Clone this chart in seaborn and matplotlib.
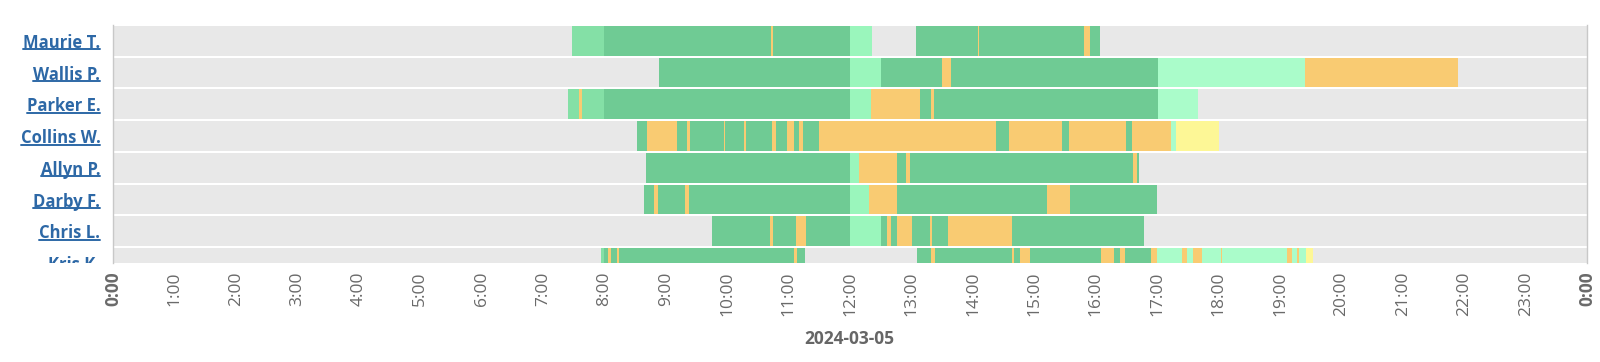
import numpy as np
import pandas as pd
import seaborn as sns
import matplotlib.pyplot as plt
from matplotlib.lines import Line2D
from matplotlib.transforms import Bbox, TransformedBbox

sns.set_style('white')
plt.rcParams['font.family'] = ['Open Sans', 'DejaVu Sans']

# 员工（从上到下）
names = ['Maurie T.', 'Wallis P.', 'Parker E.', 'Collins W.',
         'Allyn P.', 'Darby F.', 'Chris L.', 'Kris K.']

# 各员工的时间段 (开始小时, 结束小时, 状态)
maurie = [(7.47, 8.0, 'lg'), (8.0, 10.72, 'g'), (10.72, 10.75, 'o'), (10.75, 12.0, 'g'),
          (12.0, 12.35, 'm'), (13.07, 14.08, 'g'), (14.08, 14.10, 'o'), (14.10, 15.81, 'g'),
          (15.81, 15.90, 'o'), (15.90, 16.07, 'g')]
wallis = [(8.89, 12.0, 'g'), (12.0, 12.51, 'm'), (12.51, 13.50, 'g'), (13.50, 13.64, 'o'),
          (13.64, 17.01, 'g'), (17.01, 19.41, 'pm'), (19.41, 21.90, 'o')]
parker = [(7.41, 7.58, 'lg'), (7.58, 7.64, 'o'), (7.64, 8.0, 'lg'), (8.0, 12.0, 'g'),
          (12.0, 12.34, 'm'), (12.34, 13.14, 'o'), (13.14, 13.31, 'g'), (13.31, 13.36, 'o'),
          (13.36, 17.01, 'g'), (17.01, 17.67, 'pm')]
collins = [(8.53, 8.70, 'g'), (8.70, 9.18, 'o'), (9.18, 9.34, 'g'), (9.34, 9.40, 'o'),
           (9.40, 9.94, 'g'), (9.94, 9.96, 'o'), (9.96, 10.28, 'g'), (10.28, 10.31, 'o'),
           (10.31, 10.73, 'g'), (10.73, 10.79, 'o'), (10.79, 10.97, 'g'), (10.97, 11.09, 'o'),
           (11.09, 11.17, 'g'), (11.17, 11.24, 'o'), (11.24, 11.50, 'g'), (11.50, 14.37, 'o'),
           (14.37, 14.59, 'g'), (14.59, 15.45, 'o'), (15.45, 15.57, 'g'), (15.57, 16.49, 'o'),
           (16.49, 16.59, 'g'), (16.59, 17.23, 'o'), (17.23, 17.31, 'pm'), (17.31, 18.0, 'y')]
allyn = [(8.68, 12.0, 'g'), (12.0, 12.14, 'm'), (12.14, 12.77, 'o'), (12.77, 12.91, 'g'),
         (12.91, 12.98, 'o'), (12.98, 16.60, 'g'), (16.60, 16.67, 'o'), (16.67, 16.71, 'g')]
darby = [(8.64, 8.80, 'g'), (8.80, 8.87, 'o'), (8.87, 9.31, 'g'), (9.31, 9.37, 'o'),
         (9.37, 12.0, 'g'), (12.0, 12.30, 'm'), (12.30, 12.77, 'o'), (12.77, 15.21, 'g'),
         (15.21, 15.58, 'o'), (15.58, 16.99, 'g')]
chris = [(9.75, 10.69, 'g'), (10.69, 10.75, 'o'), (10.75, 11.12, 'g'), (11.12, 11.28, 'o'),
         (11.28, 12.0, 'g'), (12.0, 12.51, 'm'), (12.51, 12.60, 'g'), (12.60, 12.67, 'o'),
         (12.67, 12.77, 'g'), (12.77, 13.0, 'o'), (13.0, 13.30, 'g'), (13.30, 13.33, 'o'),
         (13.33, 13.60, 'g'), (13.60, 14.63, 'o'), (14.63, 16.78, 'g')]
kris = [(7.95, 8.0, 'lg'), (8.0, 8.06, 'g'), (8.06, 8.11, 'o'), (8.11, 8.21, 'g'),
        (8.21, 8.23, 'o'), (8.23, 11.09, 'g'), (11.09, 11.14, 'o'), (11.14, 11.27, 'g'),
        (13.09, 13.31, 'g'), (13.31, 13.38, 'o'), (13.38, 14.63, 'g'), (14.63, 14.67, 'o'),
        (14.67, 14.76, 'g'), (14.76, 14.93, 'o'), (14.93, 16.09, 'g'), (16.09, 16.30, 'o'),
        (16.30, 16.40, 'g'), (16.40, 16.48, 'o'), (16.48, 16.90, 'g'), (16.90, 16.99, 'o'),
        (16.99, 17.41, 'pm'), (17.41, 17.48, 'o'), (17.48, 17.59, 'pm'), (17.59, 17.73, 'o'),
        (17.73, 18.04, 'pm'), (18.04, 18.06, 'o'), (18.06, 19.11, 'pm'), (19.11, 19.19, 'o'),
        (19.19, 19.27, 'pm'), (19.27, 19.31, 'o'), (19.31, 19.43, 'pm'), (19.43, 19.54, 'y')]

schedules = [maurie, wallis, parker, collins, allyn, darby, chris, kris]

hour_ticks = list(range(25))
hour_labels = [f'{h % 24}:00' for h in hour_ticks]
date_label = '2024-03-05'

state_colors = {
    'g': '#6fcb94',   # 工作
    'lg': '#84e0a6',
    'm': '#9af6bc',
    'pm': '#aafcca',
    'o': '#f9cb72',
    'y': '#fdf796',
}

rows = []
for i, (name, segs) in enumerate(zip(names, schedules)):
    for s, e, st in segs:
        rows.append({'row': i, 'name': name, 'start': s, 'dur': e - s, 'state': st})
df = pd.DataFrame(rows)

fig = plt.figure(figsize=(16, 3.62), dpi=100)
ax = fig.add_axes([0.0706, 0.2735, 0.9214, 0.6575])
bar_h = 0.94

# 灰色背景行
ax.barh(np.arange(len(names)), 24, left=0, height=bar_h, color='#e8e8e8', linewidth=0)
for st, g in df.groupby('state'):
    ax.barh(g['row'], g['dur'], left=g['start'], height=bar_h,
            color=state_colors[st], linewidth=0)

ax.set_xlim(0, 24)
ax.set_ylim(7.0, -0.5)
ax.set_yticks(np.arange(len(names)))
ax.set_yticklabels(names, fontsize=12, fontweight='bold', color='#2d68a6')
ax.set_xticks(hour_ticks)
ax.set_xticklabels(hour_labels, rotation=90, fontsize=12.5, color='#6a6a6a')
for i in (0, 24):
    ax.get_xticklabels()[i].set_fontweight('bold')
ax.tick_params(axis='x', length=0, pad=6)
ax.tick_params(axis='y', length=0, pad=9)

for side in ('top', 'bottom'):
    ax.spines[side].set_visible(False)
for side in ('left', 'right'):
    ax.spines[side].set_color('#c8c8c8')
    ax.spines[side].set_linewidth(1)

fig.text(0.531, 0.063, date_label, ha='center', va='center',
         fontsize=12.5, fontweight='bold', color='#666666')

# 最后一行标签被裁剪
ax_box = ax.get_position()
clip = TransformedBbox(Bbox([[0, ax_box.y0], [1, 1]]), fig.transFigure)
last = ax.get_yticklabels()[-1]
last.set_clip_on(True)
last.set_clip_box(clip)

fig.canvas.draw()
renderer = fig.canvas.get_renderer()
inv = fig.transFigure.inverted()
for lbl in ax.get_yticklabels()[:-1]:
    bb = lbl.get_window_extent(renderer)
    (x0, y0), (x1, _) = inv.transform([[bb.x0, bb.y0 + 2.5], [bb.x1, bb.y0 + 2.5]])
    fig.add_artist(Line2D([x0, x1], [y0, y0], color='#2d68a6', linewidth=1.4))

fig.savefig('out.png', dpi=100)
